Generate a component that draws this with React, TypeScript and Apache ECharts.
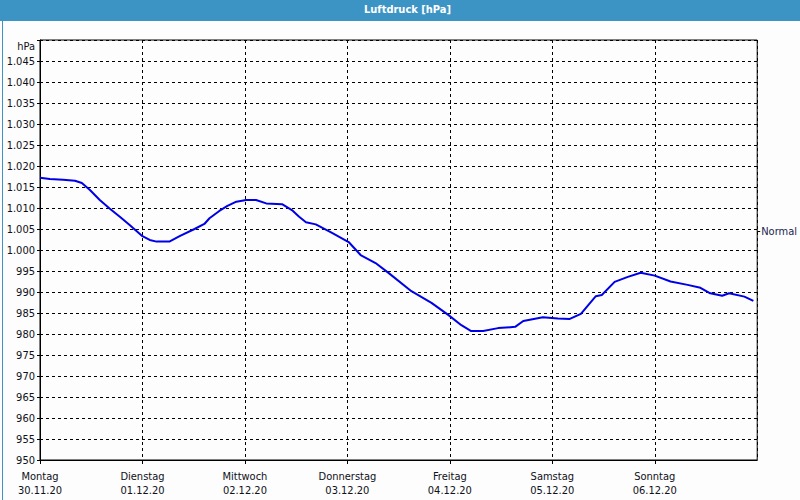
import React, { useEffect, useRef } from "react";
import * as echarts from "echarts";

const titleText = "Luftdruck [hPa]";
const dayNames = ["Montag", "Dienstag", "Mittwoch", "Donnerstag", "Freitag", "Samstag", "Sonntag"];
const dayDates = ["30.11.20", "01.12.20", "02.12.20", "03.12.20", "04.12.20", "05.12.20", "06.12.20"];
const normalValue = 1004.5;
const normalLabel = "Normal";
const unitLabel = "hPa";

// hours since Monday 30.11.20 00:00
const hours = [
  0, 2.3, 5.4, 8.2, 9.8, 11.7, 14.0, 16.3, 18.7, 21.0,
  24.0, 25.7, 27.3, 30.3, 32.7, 36.2, 38.5, 39.7, 42.0, 43.9,
  46.0, 48.3, 50.6, 53.0, 56.7, 59.0, 60.7, 62.3, 64.6, 68.4,
  72.3, 75.1, 78.6, 81.7, 87.0, 91.7, 95.7, 98.7, 101.0, 103.8,
  107.3, 111.3, 113.2, 117.8, 121.3, 124.1, 126.7, 130.2, 131.6, 134.6,
  137.7, 140.7, 144.0, 147.7, 151.7, 154.7, 157.0, 159.8, 161.4, 165.0,
  167.1,
];
const pressure = [
  1017.2, 1016.9, 1016.7, 1016.5, 1015.95, 1014.3, 1011.9, 1009.9, 1007.9, 1005.95,
  1003.3, 1002.4, 1002.0, 1002.0, 1003.3, 1005.0, 1006.2, 1007.55, 1009.3, 1010.5,
  1011.5, 1011.9, 1011.9, 1011.1, 1010.9, 1009.5, 1007.9, 1006.6, 1006.1, 1004.05,
  1001.9, 998.8, 996.9, 994.5, 990.2, 987.4, 984.5, 982.1, 980.7, 980.7,
  981.4, 981.7, 983.1, 984.0, 983.7, 983.6, 984.8, 989.0, 989.3, 992.4,
  993.6, 994.6, 993.9, 992.5, 991.7, 991.0, 989.7, 989.1, 989.7, 988.9,
  987.9,
];

const FONT = "Tahoma, 'DejaVu Sans Condensed', 'DejaVu Sans', sans-serif";
const TEXT_COLOR = "#101020";

function fmtY(v: number): string {
  const r = Math.round(v);
  if (r === 1050) return "{u|" + unitLabel + "}";
  if (r >= 1000) return "1." + String(r - 1000).padStart(3, "0");
  return String(r);
}

export default function App() {
  const ref = useRef<HTMLDivElement>(null);
  useEffect(() => {
    document.body.style.margin = "0";
    if (!ref.current) return;
    const chart = echarts.init(ref.current, undefined, { renderer: "svg" });
    const data = hours.map((h, i) => [h, pressure[i]]);
    chart.setOption({
      animation: false,
      backgroundColor: "#fcfdfc",
      textStyle: { fontFamily: FONT },
      graphic: [
        {
          type: "rect",
          left: 0,
          top: 0,
          shape: { width: 800, height: 21 },
          style: { fill: "#3c94c4" },
          silent: true,
        },
        {
          type: "rect",
          left: 0,
          top: 0,
          shape: { x: 0.5, y: 0.5, width: 799, height: 499 },
          style: { fill: "none", stroke: "#3c94c4", lineWidth: 1 },
          silent: true,
        },
        {
          type: "text",
          left: 364,
          top: 4,
          style: {
            text: titleText,
            fill: "#ffffff",
            font: `bold 11px ${FONT}`,
          },
          silent: true,
        },
      ],
      grid: {
        left: 40,
        top: 40,
        right: 40,
        bottom: 40,
        show: true,
        borderColor: "#000",
        borderWidth: 1,
        backgroundColor: "transparent",
      },
      xAxis: {
        type: "value",
        min: 0,
        max: 168,
        interval: 24,
        axisLine: { show: true, lineStyle: { color: "#000", width: 1 } },
        axisTick: { show: true, length: 4, lineStyle: { color: "#000" } },
        splitLine: { show: true, lineStyle: { color: "#000", type: [3, 3], width: 1 } },
        axisLabel: {
          margin: 9,
          lineHeight: 14,
          fontSize: 11,
          color: TEXT_COLOR,
          fontFamily: FONT,
          showMaxLabel: false,
          formatter: (v: number) => {
            const i = Math.round(v / 24);
            if (i >= dayNames.length) return "";
            return `${dayNames[i]}\n${dayDates[i]}`;
          },
        },
      },
      yAxis: [
        {
          type: "value",
          min: 950,
          max: 1050,
          interval: 5,
          axisLine: { show: true, lineStyle: { color: "#000", width: 1 } },
          axisTick: { show: true, length: 3, lineStyle: { color: "#000" } },
          splitLine: { show: true, lineStyle: { color: "#000", type: [3, 3], width: 1 } },
          axisLabel: {
            margin: 5,
            fontSize: 11,
            color: TEXT_COLOR,
            fontFamily: FONT,
            formatter: fmtY,
            rich: {
              u: {
                fontSize: 11,
                color: TEXT_COLOR,
                fontFamily: FONT,
                padding: [12, 0, 0, 0],
              },
            },
          },
        },
        {
          type: "value",
          position: "right",
          min: 950,
          max: 1050,
          axisLine: { show: false },
          splitLine: { show: false },
          axisTick: {
            show: true,
            length: 3,
            customValues: [normalValue],
            lineStyle: { color: "#000" },
          },
          axisLabel: {
            margin: 4,
            fontSize: 11,
            color: "#1a2450",
            fontFamily: FONT,
            customValues: [normalValue],
            formatter: () => normalLabel,
          },
        },
      ],
      series: [
        {
          type: "line",
          data,
          yAxisIndex: 0,
          showSymbol: false,
          smooth: false,
          lineStyle: { color: "#0000e6", width: 2 },
          silent: true,
        },
      ],
    });
    return () => chart.dispose();
  }, []);
  return (
    <div
      ref={ref}
      style={{ position: "absolute", left: 0, top: 0, width: 800, height: 500 }}
    />
  );
}
